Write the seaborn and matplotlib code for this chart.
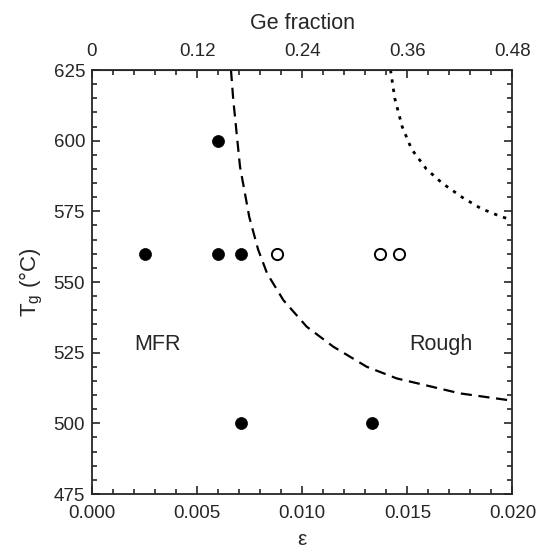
import matplotlib
matplotlib.use("Agg")
import matplotlib.pyplot as plt
import seaborn as sns
import pandas as pd
from matplotlib.ticker import MultipleLocator, FixedLocator, FuncFormatter

# ---- data ----
mfr_eps = [0.0025, 0.0060, 0.0071, 0.0060, 0.0071, 0.0133]
mfr_T = [560, 560, 560, 600, 500, 500]
rough_eps = [0.0088, 0.0137, 0.0146]
rough_T = [560, 560, 560]

dash_eps = [0.00661, 0.00672, 0.00704, 0.00748, 0.00790, 0.00833, 0.0091,
            0.01021, 0.01148, 0.01307, 0.01449, 0.0175, 0.0200]
dash_T = [625, 614.4, 590.8, 573.0, 561.5, 553.0, 543.6,
          534.2, 527.1, 520.0, 515.9, 510.6, 508.0]

dot_eps = [0.01420, 0.01440, 0.01475, 0.01520, 0.01590, 0.01665,
           0.01760, 0.01850, 0.01950, 0.0200]
dot_T = [625, 615, 605, 597, 590, 585, 580, 576, 573, 572]

x_ticks = [0.000, 0.005, 0.010, 0.015, 0.020]
y_ticks = [475, 500, 525, 550, 575, 600, 625]
ge_ticks = [0, 0.12, 0.24, 0.36, 0.48]
ge_labels = ["0", "0.12", "0.24", "0.36", "0.48"]

sns.set_style("ticks")
plt.rcParams['font.family'] = ['Liberation Sans', 'DejaVu Sans']
plt.rcParams['mathtext.fontset'] = 'custom'
plt.rcParams['mathtext.rm'] = 'Liberation Sans'
plt.rcParams['mathtext.it'] = 'Liberation Sans:italic'

fig = plt.figure(figsize=(5.38, 5.56), dpi=100)
ax = fig.add_axes([0.171, 0.1115, 0.9526 - 0.171, 0.8741 - 0.1115])

df_dash = pd.DataFrame({"eps": dash_eps, "T": dash_T})
df_dot = pd.DataFrame({"eps": dot_eps, "T": dot_T})
sns.lineplot(data=df_dash, x="eps", y="T", ax=ax, color="black", lw=1.6,
             sort=False, estimator=None)
ax.lines[-1].set_dashes([5, 3])
sns.lineplot(data=df_dot, x="eps", y="T", ax=ax, color="black", lw=2.0,
             sort=False, estimator=None)
ax.lines[-1].set_dashes([1.2, 2.2])

df_f = pd.DataFrame({"eps": mfr_eps, "T": mfr_T})
df_o = pd.DataFrame({"eps": rough_eps, "T": rough_T})
sns.scatterplot(data=df_f, x="eps", y="T", ax=ax, color="black", s=75,
                edgecolor="black", linewidth=0.5, zorder=5)
sns.scatterplot(data=df_o, x="eps", y="T", ax=ax, facecolor="white", s=65,
                edgecolor="black", linewidth=1.4, zorder=5)

ax.set_xlim(0, 0.020)
ax.set_ylim(475, 625)
ax.xaxis.set_major_locator(FixedLocator(x_ticks))
ax.xaxis.set_minor_locator(MultipleLocator(0.001))
ax.xaxis.set_major_formatter(FuncFormatter(lambda v, p: f"{v:.3f}"))
ax.yaxis.set_major_locator(FixedLocator(y_ticks))
ax.yaxis.set_minor_locator(MultipleLocator(5))

ax.tick_params(which="both", direction="in", right=True, top=False,
               labelsize=13.5, width=1.2)
ax.tick_params(axis="x", which="both", pad=8)
ax.tick_params(axis="y", which="both", pad=5)
ax.tick_params(which="major", length=6)
ax.tick_params(which="minor", length=3.5)
for s in ax.spines.values():
    s.set_linewidth(1.3)
    s.set_visible(True)

ax.set_xlabel("ε", fontsize=15, labelpad=6)
ax.set_ylabel(r"T$_\mathregular{g}$ (°C)", fontsize=16, labelpad=6)

sec = ax.secondary_xaxis('top', functions=(lambda e: e * 24, lambda g: g / 24))
sec.xaxis.set_major_locator(FixedLocator(ge_ticks))
sec.xaxis.set_minor_locator(MultipleLocator(0.024))
sec.set_xticklabels(ge_labels)
sec.tick_params(which="both", direction="in", labelsize=13.5, width=1.2, pad=7)
sec.tick_params(which="major", length=6)
sec.tick_params(which="minor", length=3.5)
sec.set_xlabel("Ge fraction", fontsize=15.5, labelpad=10)

ax.text(0.0031, 528, "MFR", fontsize=15.5, ha="center", va="center")
ax.text(0.0166, 528, "Rough", fontsize=15.5, ha="center", va="center")

fig.savefig("out.png", dpi=100)
